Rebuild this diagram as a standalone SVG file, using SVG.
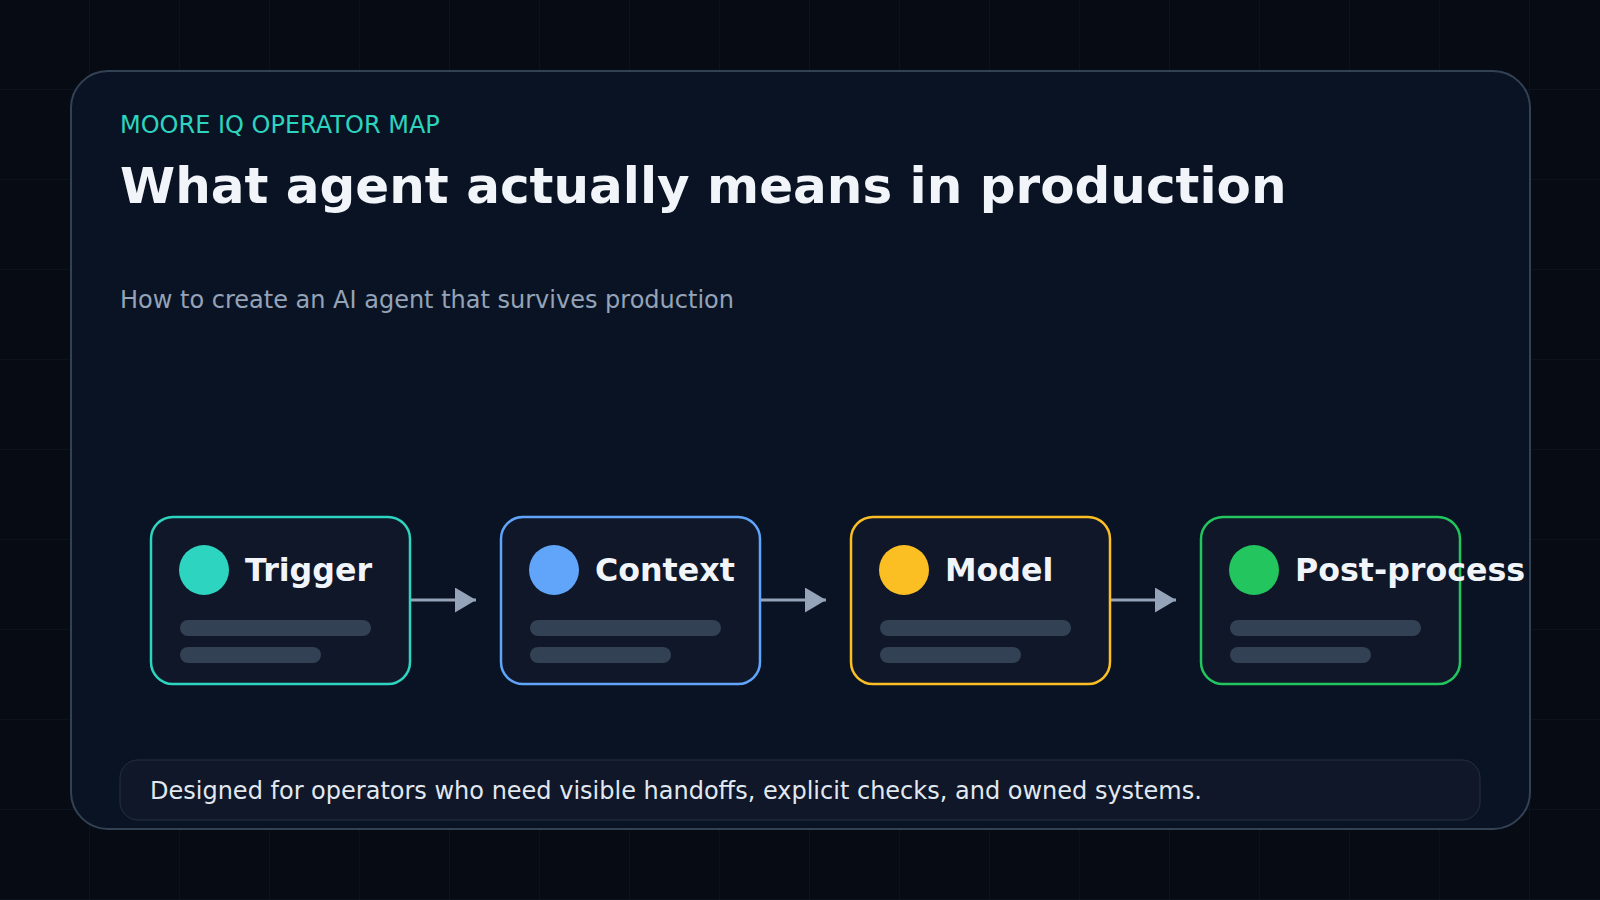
<svg xmlns="http://www.w3.org/2000/svg" width="1600" height="900" viewBox="0 0 1600 900">
  <defs>
    <pattern id="grid" x="0" y="0" width="90" height="90" patternUnits="userSpaceOnUse">
      <path d="M90 0 V90 M0 90 H90" fill="none" stroke="#121a27" stroke-width="1"/>
    </pattern>
    <marker id="arrow" markerUnits="userSpaceOnUse" markerWidth="22" markerHeight="26" refX="21" refY="12.5" orient="auto">
      <path d="M0 0 L21 12.5 L0 25 Z" fill="#94a3b8"/>
    </marker>
    <style>
      .sans { font-family: "DejaVu Sans", "Noto Sans", sans-serif; }
      .node-box { fill: #0f1729; stroke-width: 2.5; }
      .node-label { font-family: "DejaVu Sans", "Noto Sans", sans-serif; font-weight: bold; font-size: 31.7px; fill: #f1f5f9; }
      .bar { fill: #334155; }
      .conn { stroke: #94a3b8; stroke-width: 3; fill: none; }
    </style>
  </defs>
  <rect x="0" y="0" width="1600" height="900" fill="#070b13"/>
  <rect x="0" y="0" width="1600" height="900" fill="url(#grid)"/>

  <rect x="71" y="71" width="1459" height="758" rx="37" fill="#0a1323" stroke="#334155" stroke-width="2"/>

  <text class="sans" x="120" y="133" font-size="24" fill="#2dd4bf">MOORE IQ OPERATOR MAP</text>
  <text class="sans" x="120" y="203" font-size="50" font-weight="bold" fill="#f1f5f9">What agent actually means in production</text>
  <text class="sans" x="120" y="308" font-size="24" fill="#94a3b8">How to create an AI agent that survives production</text>

  <g id="connectors">
    <line class="conn" x1="410" y1="600" x2="476" y2="600" marker-end="url(#arrow)"/>
    <line class="conn" x1="760" y1="600" x2="826" y2="600" marker-end="url(#arrow)"/>
    <line class="conn" x1="1110" y1="600" x2="1176" y2="600" marker-end="url(#arrow)"/>
  </g>

  <g id="node-trigger">
    <rect class="node-box" x="151" y="517" width="259" height="167" rx="22" stroke="#2dd4bf"/>
    <circle cx="204" cy="570" r="25" fill="#2dd4bf"/>
    <text class="node-label" x="245" y="581">Trigger</text>
    <rect class="bar" x="180" y="620" width="191" height="16" rx="8"/>
    <rect class="bar" x="180" y="647" width="141" height="16" rx="8"/>
  </g>
  <g id="node-context">
    <rect class="node-box" x="501" y="517" width="259" height="167" rx="22" stroke="#60a5fa"/>
    <circle cx="554" cy="570" r="25" fill="#60a5fa"/>
    <text class="node-label" x="595" y="581">Context</text>
    <rect class="bar" x="530" y="620" width="191" height="16" rx="8"/>
    <rect class="bar" x="530" y="647" width="141" height="16" rx="8"/>
  </g>
  <g id="node-model">
    <rect class="node-box" x="851" y="517" width="259" height="167" rx="22" stroke="#fbbf24"/>
    <circle cx="904" cy="570" r="25" fill="#fbbf24"/>
    <text class="node-label" x="945" y="581">Model</text>
    <rect class="bar" x="880" y="620" width="191" height="16" rx="8"/>
    <rect class="bar" x="880" y="647" width="141" height="16" rx="8"/>
  </g>
  <g id="node-postprocess">
    <rect class="node-box" x="1201" y="517" width="259" height="167" rx="22" stroke="#22c55e"/>
    <circle cx="1254" cy="570" r="25" fill="#22c55e"/>
    <text class="node-label" x="1295" y="581">Post-process</text>
    <rect class="bar" x="1230" y="620" width="191" height="16" rx="8"/>
    <rect class="bar" x="1230" y="647" width="141" height="16" rx="8"/>
  </g>

  <g id="footer">
    <rect x="120" y="760" width="1360" height="60" rx="18" fill="#0f1729" stroke="#243041" stroke-width="1"/>
    <text class="sans" x="150" y="799" font-size="24" fill="#e2e8f0">Designed for operators who need visible handoffs, explicit checks, and owned systems.</text>
  </g>
</svg>
